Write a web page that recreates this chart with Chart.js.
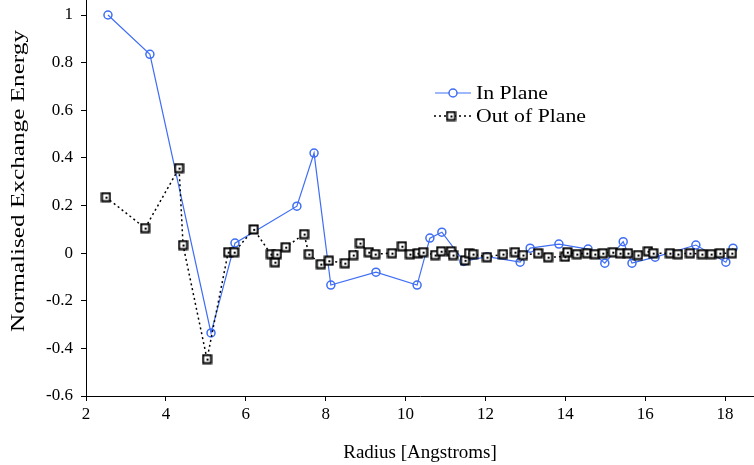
<!DOCTYPE html>
<html>
<head>
<meta charset="utf-8">
<script src="https://cdn.jsdelivr.net/npm/chart.js@4/dist/chart.umd.min.js"></script>
<style>
  html, body { margin: 0; padding: 0; background: #fff; }
  #wrap { width: 754px; height: 465px; }
</style>
</head>
<body>
<div id="wrap"><canvas id="c" width="754" height="465"></canvas></div>
<script>
// Radius (Angstroms) and normalised exchange energy, in-plane neighbours
const inPlaneR = [2.55, 3.6, 5.13, 5.73, 7.28, 7.71, 8.13, 9.26, 10.29, 10.61, 10.91, 11.46, 12.04,
  12.87, 13.12, 13.84, 14.57, 14.99, 15.45, 15.67, 16.25, 17.27, 18.02, 18.2];
const inPlaneE = [1.0, 0.835, -0.335, 0.042, 0.197, 0.42, -0.134, -0.08, -0.134, 0.063, 0.088, -0.035, -0.015,
  -0.038, 0.021, 0.038, 0.017, -0.042, 0.048, -0.042, -0.017, 0.034, -0.038, 0.021];

// Out-of-plane neighbours
const outPlaneR = [2.5, 3.48, 4.33, 4.43, 5.03, 5.56, 5.71, 6.2, 6.63, 6.73, 6.78, 7.0, 7.46, 7.58, 7.88,
  8.08, 8.48, 8.69, 8.86, 9.08, 9.24, 9.66, 9.91, 10.11, 10.31, 10.44, 10.74, 10.89, 11.14, 11.19, 11.49,
  11.59, 11.69, 12.04, 12.44, 12.74, 12.94, 13.32, 13.57, 13.99, 14.05, 14.29, 14.54, 14.74, 14.94, 15.19,
  15.37, 15.57, 15.82, 16.07, 16.2, 16.62, 16.82, 17.12, 17.42, 17.65, 17.87, 18.17];
const outPlaneE = [0.235, 0.105, 0.357, 0.034, -0.445, 0.004, 0.004, 0.1, -0.004, -0.038, -0.004, 0.025, 0.08, -0.004, -0.046,
  -0.032, -0.042, -0.008, 0.042, 0.004, -0.004, 0.0, 0.029, -0.004, 0.0, 0.004, -0.008, 0.008, 0.008, -0.008, -0.03,
  0.0, -0.004, -0.017, -0.004, 0.004, -0.008, 0.0, -0.017, -0.015, 0.004, -0.004, 0.0, -0.004, 0.0, 0.004,
  0.0, 0.0, -0.008, 0.008, 0.0, 0.0, -0.004, 0.0, -0.004, -0.004, 0.0, 0.0];

// axis tick values
const xTicks = [2, 4, 6, 8, 10, 12, 14, 16, 18];
const yTicks = [-0.6, -0.4, -0.2, 0, 0.2, 0.4, 0.6, 0.8, 1];

const seriesNames = ['In Plane', 'Out of Plane'];
const xTitle = 'Radius [Angstroms]';
const yTitle = 'Normalised Exchange Energy';

const BLUE = '#3f6ef5';
const FONT = "'Liberation Serif', 'DejaVu Serif', serif";

// square marker with a centre dot
function squareMarker() {
  const s = 11;
  const cv = document.createElement('canvas');
  cv.width = s; cv.height = s;
  const g = cv.getContext('2d');
  g.fillStyle = '#fff';
  g.fillRect(1, 1, s - 2, s - 2);
  g.strokeStyle = '#000';
  g.lineWidth = 2;
  g.strokeRect(1.5, 1.5, s - 3, s - 3);
  g.fillStyle = '#000';
  g.fillRect(5, 5, 2, 2);
  return cv;
}
const sq = squareMarker();

const toPts = (xs, ys) => xs.map((x, i) => ({ x: x, y: ys[i] }));

// text drawn with a horizontal stretch so it fills a given width
function stretchedText(ctx, text, x, y, width) {
  const w = ctx.measureText(text).width;
  ctx.save();
  ctx.translate(x, y);
  ctx.scale(width / w, 1);
  ctx.fillText(text, 0, 0);
  ctx.restore();
}

// legend inside the plot area and the rotated y title
const extras = {
  id: 'extras',
  afterDraw(chart) {
    const ctx = chart.ctx;
    ctx.save();
    ctx.font = '19px ' + FONT;
    ctx.fillStyle = '#000';
    ctx.textBaseline = 'middle';
    ctx.textAlign = 'left';
    // In Plane
    let y = 93;
    ctx.strokeStyle = BLUE;
    ctx.lineWidth = 1.2;
    ctx.setLineDash([]);
    ctx.beginPath(); ctx.moveTo(435, y); ctx.lineTo(471, y); ctx.stroke();
    ctx.fillStyle = '#fff';
    ctx.beginPath(); ctx.arc(453, y, 4, 0, Math.PI * 2); ctx.fill();
    ctx.lineWidth = 1.5;
    ctx.stroke();
    ctx.fillStyle = '#000';
    stretchedText(ctx, seriesNames[0], 476, y + 1, 72);
    // Out of Plane
    y = 116;
    ctx.strokeStyle = '#000';
    ctx.lineWidth = 1.5;
    ctx.setLineDash([2, 3]);
    ctx.beginPath(); ctx.moveTo(434, y); ctx.lineTo(471, y); ctx.stroke();
    ctx.setLineDash([]);
    ctx.drawImage(sq, 451 - 5.5, y - 5.5);
    stretchedText(ctx, seriesNames[1], 476, y + 1, 110);

    // y axis title
    ctx.save();
    ctx.translate(19, 181);
    ctx.rotate(-Math.PI / 2);
    ctx.textAlign = 'left';
    const yw = 302;
    ctx.font = '19px ' + FONT;
    const w = ctx.measureText(yTitle).width;
    ctx.scale(yw / w, 1);
    ctx.fillText(yTitle, -w / 2, 0);
    ctx.restore();
    ctx.restore();
  }
};

const fmtY = v => {
  const r = Math.round(v * 10) / 10;
  return r === 0 ? '0' : String(r);
};

new Chart(document.getElementById('c'), {
  type: 'scatter',
  data: {
    datasets: [
      {
        label: seriesNames[0],
        data: toPts(inPlaneR, inPlaneE),
        showLine: true,
        borderColor: BLUE,
        borderWidth: 1.2,
        pointStyle: 'circle',
        pointRadius: 4,
        pointBorderWidth: 1.5,
        pointBorderColor: BLUE,
        pointBackgroundColor: 'rgba(255,255,255,0)',
        clip: false,
        order: 2
      },
      {
        label: seriesNames[1],
        data: toPts(outPlaneR, outPlaneE),
        showLine: true,
        borderColor: '#000',
        borderWidth: 1.5,
        borderDash: [2, 3],
        pointStyle: sq,
        pointRadius: 5,
        clip: false,
        order: 1
      }
    ]
  },
  options: {
    responsive: false,
    animation: false,
    devicePixelRatio: 1,
    layout: { autoPadding: false, padding: { left: 0, right: 0, top: 0, bottom: 0 } },
    plugins: {
      legend: { display: false },
      tooltip: { enabled: false }
    },
    scales: {
      x: {
        type: 'linear',
        min: 2,
        max: 18.725,
        afterBuildTicks(s) { s.ticks = xTicks.map(v => ({ value: v })); },
        afterFit(s) { s.height = 69; s.paddingLeft = 0; s.paddingRight = 0; },
        border: { display: true, color: '#000', width: 1 },
        grid: { drawOnChartArea: false, drawTicks: true, tickLength: 5, color: '#000' },
        ticks: {
          color: '#000',
          padding: 3,
          maxRotation: 0,
          autoSkip: false,
          font: { family: FONT, size: 17 }
        },
        title: {
          display: true,
          text: xTitle,
          color: '#000',
          padding: { top: 4, bottom: 1 },
          font: { family: FONT, size: 19 }
        }
      },
      y: {
        type: 'linear',
        min: -0.6,
        max: 1.063,
        afterBuildTicks(s) { s.ticks = yTicks.map(v => ({ value: v })); },
        afterFit(s) { s.width = 86; s.paddingTop = 0; s.paddingBottom = 0; },
        border: { display: true, color: '#000', width: 1 },
        grid: { drawOnChartArea: false, drawTicks: true, tickLength: 5, color: '#000' },
        ticks: {
          color: '#000',
          padding: 8,
          autoSkip: false,
          font: { family: FONT, size: 17 },
          callback: fmtY
        },
        title: { display: false }
      }
    }
  },
  plugins: [extras]
});
</script>
</body>
</html>
